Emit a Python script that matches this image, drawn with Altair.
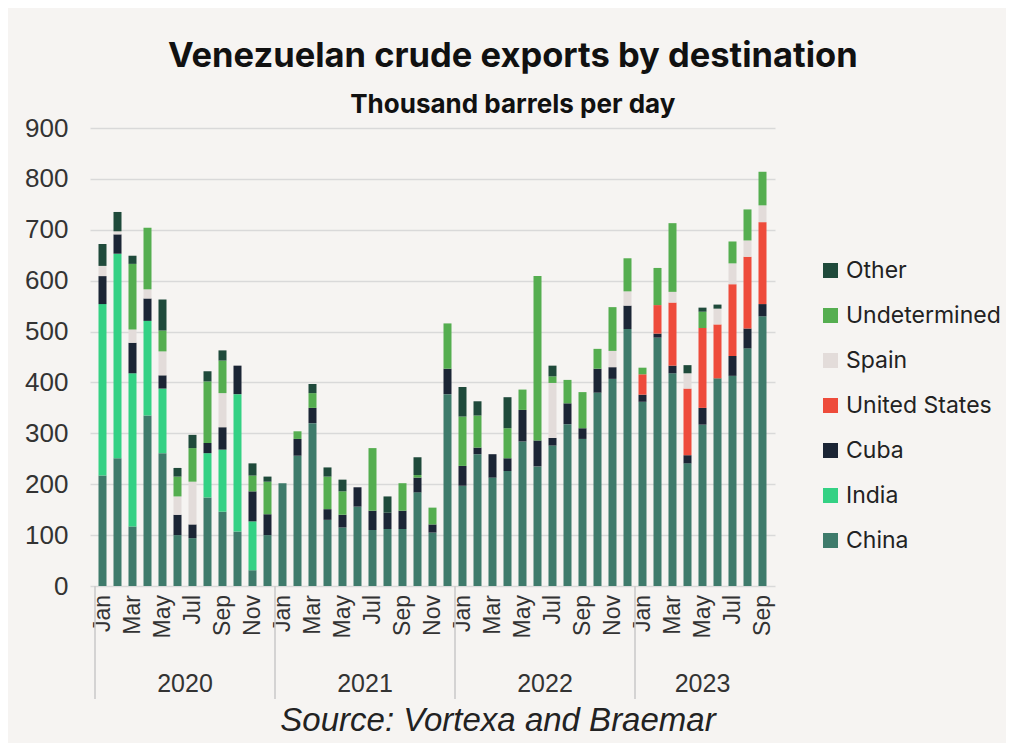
import altair as alt
import pandas as pd

months = ["Jan", "Feb", "Mar", "Apr", "May", "Jun", "Jul", "Aug", "Sep", "Oct", "Nov", "Dec"]
years = ["2020", "2021", "2022", "2023"]
n_months = 45  # Jan 2020 .. Sep 2023

series = ["China", "India", "Cuba", "United States", "Spain", "Undetermined", "Other"]
legend_order = ["Other", "Undetermined", "Spain", "United States", "Cuba", "India", "China"]
colors = {
    "Other": "#1f4a3b",
    "Undetermined": "#55ae50",
    "Spain": "#e3dcda",
    "United States": "#ee4b3b",
    "Cuba": "#1b2535",
    "India": "#34d184",
    "China": "#3e7b6b",
}

# thousand barrels per day, Jan 2020 .. Sep 2023
china = [217, 251, 117, 335, 261, 100, 94, 174, 146, 107, 31, 100,
         202, 256, 320, 130, 115, 156, 110, 112, 112, 184, 105, 377,
         197, 259, 213, 226, 284, 235, 276, 318, 289, 380, 407, 505,
         362, 488, 418, 241, 317, 408, 413, 467, 530]
india = [337, 402, 301, 186, 127, 0, 0, 87, 122, 270, 96, 0,
         0, 0, 0, 0, 0, 0, 0, 0, 0, 0, 0, 0,
         0, 0, 0, 0, 0, 0, 0, 0, 0, 0, 0, 0,
         0, 0, 0, 0, 0, 0, 0, 0, 0]
cuba = [55, 38, 60, 44, 26, 40, 27, 20, 44, 56, 59, 41,
        0, 33, 30, 21, 25, 38, 38, 32, 36, 29, 16, 50,
        39, 13, 46, 25, 62, 51, 15, 41, 21, 47, 23, 46,
        14, 8, 15, 16, 33, 0, 39, 39, 24]
united_states = [0, 0, 0, 0, 0, 0, 0, 0, 0, 0, 0, 0,
                 0, 0, 0, 0, 0, 0, 0, 0, 0, 0, 0, 0,
                 0, 0, 0, 0, 0, 0, 0, 0, 0, 0, 0, 0,
                 40, 56, 124, 131, 157, 106, 141, 141, 161]
spain = [20, 6, 26, 18, 47, 36, 84, 0, 67, 0, 0, 0,
         0, 0, 0, 0, 0, 0, 0, 0, 0, 0, 0, 0,
         0, 0, 0, 0, 0, 0, 108, 0, 0, 0, 32, 28,
         0, 0, 21, 30, 0, 31, 41, 32, 33]
undetermined = [0, 0, 129, 121, 41, 39, 66, 121, 64, 0, 31, 64,
                0, 15, 29, 64, 46, 0, 123, 0, 54, 5, 33, 89,
                97, 63, 0, 59, 40, 323, 13, 46, 71, 39, 86, 65,
                13, 73, 135, 0, 32, 0, 43, 61, 66]
other = [43, 38, 16, 0, 61, 17, 26, 20, 20, 0, 24, 10,
         0, 0, 18, 18, 23, 0, 0, 32, 0, 35, 0, 0,
         58, 28, 0, 61, 0, 0, 21, 0, 0, 0, 0, 0,
         0, 0, 0, 16, 8, 8, 0, 0, 0]

values = {
    "China": china, "India": india, "Cuba": cuba, "United States": united_states,
    "Spain": spain, "Undetermined": undetermined, "Other": other,
}

rows = []
for k, name in enumerate(series):
    for i in range(n_months):
        rows.append({"idx": i, "series": name, "value": values[name][i], "ord": k})
df = pd.DataFrame(rows)

month_lab = pd.DataFrame({
    "pos": list(range(0, n_months, 2)),
    "label": [months[i % 12] for i in range(0, n_months, 2)],
})
year_sep = pd.DataFrame({"pos": [-0.5, 11.5, 23.5, 35.5]})
year_lab = pd.DataFrame({"pos": [5.5, 17.5, 29.5, 40.0], "label": years})
source = pd.DataFrame({"t": ["Source: Vortexa and Braemar"]})

W, H = 685, 458

xscale = alt.Scale(domain=[-0.5, n_months - 0.5], nice=False, zero=False)

bars = alt.Chart(df).mark_bar(size=8).encode(
    x=alt.X("idx:Q", scale=xscale, axis=None),
    y=alt.Y("value:Q", stack="zero",
            scale=alt.Scale(domain=[0, 900], nice=False),
            axis=alt.Axis(values=list(range(0, 901, 100)), grid=True, gridColor="#d9d9d9",
                          gridWidth=1.5, domain=False, ticks=False, labelFontSize=26,
                          labelFont="Liberation Sans", labelColor="#333333",
                          labelPadding=22, title=None)),
    color=alt.Color("series:N",
                    scale=alt.Scale(domain=legend_order, range=[colors[s] for s in legend_order]),
                    legend=alt.Legend(title=None, orient="none", legendX=729, legendY=131,
                                      symbolType="square", symbolSize=225, symbolStrokeWidth=0,
                                      labelFontSize=23, labelFont="Inter", labelColor="#222222",
                                      rowPadding=21, labelOffset=4)),
    order=alt.Order("ord:Q", sort="ascending"),
)

mlabels = alt.Chart(month_lab).mark_text(fontSize=23, font="Liberation Sans", color="#333333",
                                         angle=270, align="right", baseline="middle").encode(
    x=alt.X("pos:Q", scale=xscale),
    y=alt.value(H + 9),
    text="label:N",
)

rules = alt.Chart(year_sep).mark_rule(color="#c9c9c9", strokeWidth=1.5).encode(
    x=alt.X("pos:Q", scale=xscale),
    y=alt.value(H),
    y2=alt.value(H + 113),
)

ylabels = alt.Chart(year_lab).mark_text(fontSize=25, font="Liberation Sans", color="#333333",
                                        baseline="middle").encode(
    x=alt.X("pos:Q", scale=xscale),
    y=alt.value(H + 98),
    text="label:N",
)

src = alt.Chart(source).mark_text(fontSize=33, font="Liberation Sans", fontStyle="italic",
                                  color="#222222", baseline="middle").encode(
    x=alt.value(408),
    y=alt.value(H + 135),
    text="t:N",
)

chart = alt.layer(bars, mlabels, rules, ylabels, src).properties(
    width=W, height=H,
    background="#f6f4f2",
    padding={"left": 16, "top": 30, "right": 5, "bottom": 5},
    title=alt.TitleParams(
        text="Venezuelan crude exports by destination",
        subtitle="Thousand barrels per day",
        anchor="middle", frame="bounds",
        font="Inter", fontSize=34.5, fontWeight="bold", color="#111111",
        subtitleFont="Inter", subtitleFontSize=26, subtitleFontWeight="bold",
        subtitleColor="#111111", subtitlePadding=18, offset=-4,
    ),
).configure_view(stroke=None)

chart.save("out.html", embed_options={"renderer": "svg", "actions": False})
